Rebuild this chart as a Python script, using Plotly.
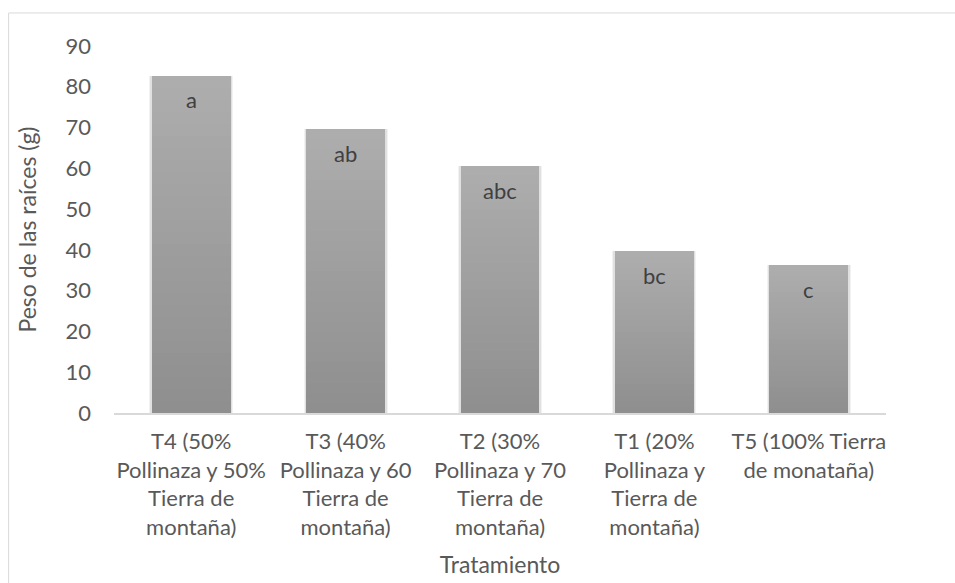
import plotly.graph_objects as go

# Root weight per treatment, with significance letters
categories = [
    "T4 (50%<br>Pollinaza y 50%<br>Tierra de<br>montaña)",
    "T3 (40%<br>Pollinaza y 60<br>Tierra de<br>montaña)",
    "T2 (30%<br>Pollinaza y 70<br>Tierra de<br>montaña)",
    "T1 (20%<br>Pollinaza y<br>Tierra de<br>montaña)",
    "T5 (100% Tierra<br>de monataña)",
]
weights = [82.7, 69.6, 60.5, 39.7, 36.2]
letters = ["a", "ab", "abc", "bc", "c"]
y_ticks = [0, 10, 20, 30, 40, 50, 60, 70, 80, 90]

FONT = "Lato"
TXT = "#595959"
FS = 22
FS_TITLE = 23
BAR_W = 0.51

fig = go.Figure()

# soft drop shadow behind each bar
for w, a in [(0.545, 0.05), (0.53, 0.07)]:
    fig.add_trace(go.Bar(
        x=categories, y=weights, width=w,
        marker=dict(color=f"rgba(0,0,0,{a})", line=dict(width=0)),
        hoverinfo="skip", showlegend=False,
    ))

# vertical gray gradient: stacked layers, each from a fraction of the value up to the top
steps = 28
bottom = (0x8f, 0x8f, 0x8f)
top = (0xad, 0xad, 0xad)
for i in range(steps):
    f = i / steps
    t = i / (steps - 1)
    c = tuple(round(bottom[k] + (top[k] - bottom[k]) * t) for k in range(3))
    fig.add_trace(go.Bar(
        x=categories,
        base=[v * f for v in weights],
        y=[v * (1 - f) for v in weights],
        width=BAR_W,
        marker=dict(color="rgb(%d,%d,%d)" % c, line=dict(width=0)),
        hoverinfo="skip" if i else "y",
        showlegend=False,
    ))

# significance letters just inside the top of each bar
for cat, v, lab in zip(categories, weights, letters):
    fig.add_annotation(
        x=cat, y=v, text=lab, showarrow=False, yshift=-24,
        font=dict(family=FONT, size=FS, color="#404040"),
    )

# outer chart frame
fig.add_shape(
    type="rect", xref="paper", yref="paper",
    x0=-0.1365, x1=1.3, y0=-0.6, y1=1.09,
    line=dict(color="#d9d9d9", width=1), fillcolor="rgba(0,0,0,0)", layer="below",
)

fig.update_layout(
    width=955, height=583,
    margin=dict(l=114, r=69, t=46, b=170, autoexpand=False),
    barmode="overlay",
    bargap=0,
    plot_bgcolor="white", paper_bgcolor="white",
    font=dict(family=FONT, color=TXT),
    showlegend=False,
    xaxis=dict(
        showline=True, linecolor="#d9d9d9", linewidth=1.5,
        showgrid=False, ticks="", ticklabelstandoff=8, automargin=False,
        tickfont=dict(family=FONT, size=FS, color=TXT),
        title=dict(text="Tratamiento", font=dict(family=FONT, size=FS_TITLE, color=TXT), standoff=18),
        fixedrange=True,
    ),
    yaxis=dict(
        range=[0, 90], tickvals=y_ticks, showline=False, showgrid=False,
        zeroline=False, ticks="", ticklabelstandoff=22, automargin=False,
        tickfont=dict(family=FONT, size=FS, color=TXT),
        title=dict(text="Peso de las raíces (g)", font=dict(family=FONT, size=FS_TITLE, color=TXT), standoff=22),
        fixedrange=True,
    ),
)

fig.write_html("out.html")
